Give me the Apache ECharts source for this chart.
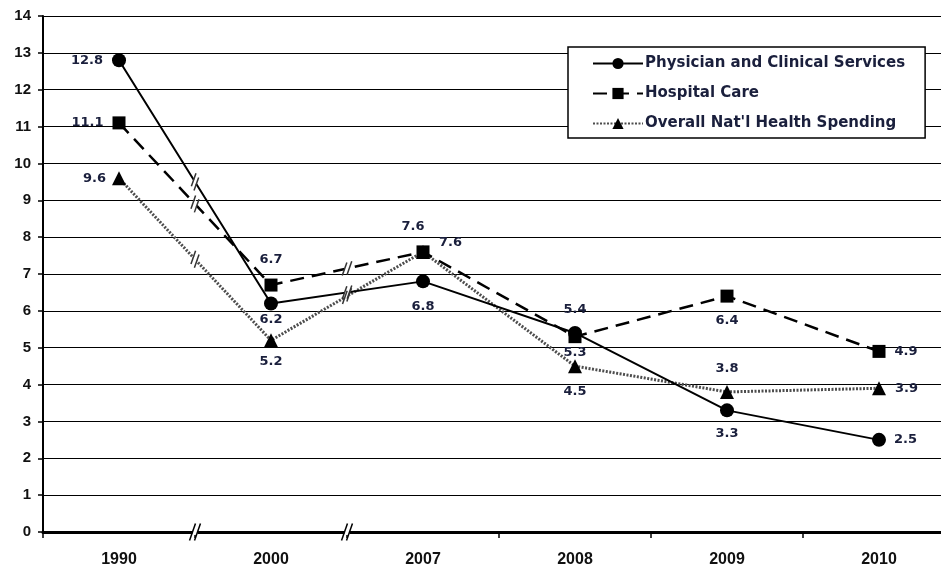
<!DOCTYPE html>
<html>
<head>
<meta charset="utf-8">
<script src="https://cdn.jsdelivr.net/npm/echarts@6/dist/echarts.min.js"></script>
<style>html,body{margin:0;padding:0;background:#fff;overflow:hidden;}#c{width:941px;height:571px;}</style>
</head>
<body>
<div id="c"></div>
<script>
// ---- data ----
const years = ['1990', '2000', '2007', '2008', '2009', '2010'];
const physician = [12.8, 6.2, 6.8, 5.4, 3.3, 2.5];
const hospital = [11.1, 6.7, 7.6, 5.3, 6.4, 4.9];
const overall = [9.6, 5.2, 7.6, 4.5, 3.8, 3.9];
const seriesNames = ['Physician and Clinical Services', 'Hospital Care', "Overall Nat'l Health Spending"];
const breakAfter = [0, 1]; // axis breaks between 1990-2000 and 2000-2007

// ---- style ----
const FONT = '"Liberation Sans", Arial, sans-serif';
const LFONT = '"DejaVu Sans", Verdana, sans-serif';
const LABEL_COLOR = '#1a1f3c';
const physLabelPos = [['left', 9], ['bottom', 3], ['bottom', 12], ['top', 10], ['bottom', 10], ['right', 8]];
const hospLabelPos = [['left', 9], ['top', 12], ['top', 12, [-10, 0]], ['bottom', 3], ['bottom', 12], ['right', 9]];
const overLabelPos = [['left', 6], ['bottom', 8], ['right', 9, [0, -9]], ['bottom', 12], ['top', 10], ['right', 9]];

function mkData(vals, pos) {
  return vals.map((v, i) => ({
    value: v,
    label: {
      position: pos[i][0],
      distance: pos[i][1],
      offset: pos[i][2] || [0, 0]
    }
  }));
}

const labelBase = {
  show: true,
  color: LABEL_COLOR,
  fontFamily: LFONT,
  fontWeight: 'bold',
  fontSize: 13,
  formatter: p => p.value.toFixed(1)
};

const chart = echarts.init(document.getElementById('c'), null, {renderer: 'canvas'});
chart.setOption({
  animation: false,
  backgroundColor: '#fff',
  grid: {left: 43, width: 912, top: 16, bottom: 39, containLabel: false, outerBoundsMode: 'none'},
  legend: {
    left: 568, top: 47,
    orient: 'vertical',
    padding: [9, 20, 7, 24],
    itemGap: 15,
    itemWidth: 50,
    itemHeight: 14,
    backgroundColor: '#fff',
    borderColor: '#000',
    borderWidth: 1.5,
    selectedMode: false,
    textStyle: {fontFamily: LFONT, fontWeight: 'bold', fontSize: 15, color: LABEL_COLOR, padding: [0, 0, 0, -3]},
    data: seriesNames
  },
  xAxis: {
    type: 'category',
    data: years,
    boundaryGap: true,
    axisLine: {show: true, lineStyle: {color: '#000', width: 3}},
    axisTick: {show: true, length: 6, lineStyle: {color: '#000', width: 1.5}},
    axisLabel: {fontFamily: FONT, fontWeight: 'bold', fontSize: 16, color: '#111', margin: 20},
    splitLine: {show: false}
  },
  yAxis: {
    type: 'value',
    min: 0, max: 14, interval: 1,
    axisLine: {show: true, lineStyle: {color: '#000', width: 2}},
    axisTick: {show: true, length: 5, lineStyle: {color: '#000', width: 1.5}},
    axisLabel: {fontFamily: FONT, fontWeight: 'bold', fontSize: 15, color: '#111', margin: 12},
    splitLine: {show: true, lineStyle: {color: '#000', width: 1.2}}
  },
  series: [
    {
      name: seriesNames[0], type: 'line', data: mkData(physician, physLabelPos),
      symbol: 'circle', symbolSize: 14,
      lineStyle: {color: '#000', width: 2},
      itemStyle: {color: '#000'},
      label: labelBase, z: 5
    },
    {
      name: seriesNames[1], type: 'line', data: mkData(hospital, hospLabelPos),
      symbol: 'rect', symbolSize: 13,
      lineStyle: {color: '#000', width: 2.5, type: [14, 8]},
      itemStyle: {color: '#000'},
      label: labelBase, z: 4
    },
    {
      name: seriesNames[2], type: 'line', data: mkData(overall, overLabelPos),
      symbol: 'triangle', symbolSize: 14,
      lineStyle: {color: '#4d4d4d', width: 3, type: [2, 1.5]},
      itemStyle: {color: '#000'},
      label: labelBase, z: 3
    }
  ]
});

// ---- break marks computed from the chart's own scales ----
function slashPair(cx, cy, dx, dy, color, len) {
  const gap = 2.5, els = [];
  els.push({type: 'line', shape: {x1: cx - dx * gap, y1: cy - dy * gap, x2: cx + dx * gap, y2: cy + dy * gap},
    style: {stroke: '#fff', lineWidth: 6}, z: 100});
  [-1, 1].forEach(s => {
    const px = cx + s * dx * gap, py = cy + s * dy * gap;
    els.push({type: 'line', shape: {x1: px - 0.33 * len, y1: py + 0.94 * len, x2: px + 0.33 * len, y2: py - 0.94 * len},
      style: {stroke: color, lineWidth: 1.5}, z: 101});
  });
  return els;
}
const gfx = [];
[physician, hospital, overall].forEach(vals => {
  breakAfter.forEach(i => {
    const a = chart.convertToPixel({xAxisIndex: 0, yAxisIndex: 0}, [i, vals[i]]);
    const b = chart.convertToPixel({xAxisIndex: 0, yAxisIndex: 0}, [i + 1, vals[i + 1]]);
    const cx = (a[0] + b[0]) / 2, cy = (a[1] + b[1]) / 2;
    const L = Math.hypot(b[0] - a[0], b[1] - a[1]);
    gfx.push(...slashPair(cx, cy, (b[0] - a[0]) / L, (b[1] - a[1]) / L, '#333', 7));
  });
});
breakAfter.forEach(i => {
  const a = chart.convertToPixel({xAxisIndex: 0, yAxisIndex: 0}, [i, 0]);
  const b = chart.convertToPixel({xAxisIndex: 0, yAxisIndex: 0}, [i + 1, 0]);
  gfx.push(...slashPair((a[0] + b[0]) / 2, a[1], 1, 0, '#000', 9));
});
chart.setOption({graphic: gfx});
</script>
</body>
</html>
